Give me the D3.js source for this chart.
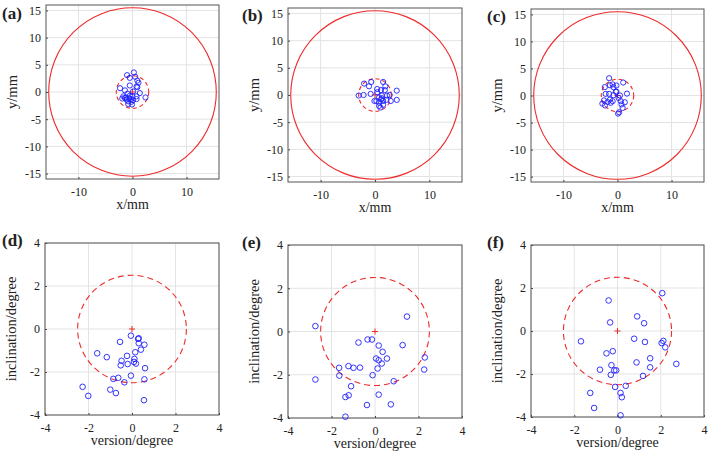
<!DOCTYPE html>
<html><head><meta charset="utf-8">
<script src="https://cdn.jsdelivr.net/npm/d3@7"></script>
<style>
body{margin:0;background:#fff;}
svg{display:block;}
text{font-family:"Liberation Serif","Times New Roman",serif;fill:#222;}
</style></head>
<body>
<svg id="chart" width="708" height="452"></svg>
<script>
// ---- data ----
const panelLabels = ["(a)","(b)","(c)","(d)","(e)","(f)"];
const topTicks = [-15,-10,-5,0,5,10,15];
const topXTicks = [-10,0,10];
const botTicks = [-4,-2,0,2,4];
const topXLabel = "x/mm", topYLabel = "y/mm";
const botXLabel = "version/degree", botYLabel = "inclination/degree";
const outerRadius = 15.5, innerRadiusTop = 3, innerRadiusBot = 2.5;

const aX = [0.25,-1.0,-0.5,0.5,0.9,1.1,-0.5,0.75,0.9,-2.3,-1.4,0.1,1.35,-0.9,-1.7,-1.2,-0.5,0,0.75,-1.9,-1.1,-0.3,0.1,0.75,-0.8,-0.2,2.4,-0.8,-0.1,-0.6,-1.4];
const aY = [3.6,3.1,2.6,2.8,2.1,1.7,1.2,1.0,0.9,0.7,0.3,0.1,-0.2,-0.3,-0.8,-1.0,-0.7,-0.8,-0.8,-1.2,-1.4,-1.3,-1.5,-1.3,-1.7,-1.8,-1.0,-2.2,-2.3,-1.2,-1.1];
const bX = [-2.0,-0.7,1.5,-1.1,0.4,1.1,1.8,1.9,-3.0,-2.1,-0.8,0.4,2.7,4.0,4.0,-0.1,0.75,1.1,1.3,0.75,1.5,2.1,2.9,0.75,1.5,1.0,0.25,1.25,2.2];
const bY = [2.1,2.4,2.4,1.6,1.1,0.9,0.9,1.6,-0.1,0,0.2,0.5,0,0.8,-0.9,-1.1,-0.45,-0.8,-0.6,-1.4,-1.1,-0.9,-1.1,-2.0,-1.8,-2.3,-1.1,-0.1,-0.1];
const cX = [-1.55,1.05,-2.35,-1.4,-0.9,-0.2,-0.75,-2.2,-1.55,-0.3,-0.2,0.45,1.75,-0.75,-2.8,-2.3,-1.85,-1.4,-0.9,0.2,0.6,1.35,0.95,0.3,0.1,0.75,-2.5,-1.25];
const cY = [3.2,2.4,1.55,1.9,2.05,1.85,1.55,0.3,0.3,0.7,0.7,0,0.35,0.05,-1.5,-1.85,-1.2,-0.75,-1.05,-0.45,-1.05,-1.25,-2.3,-3.1,-3.35,-1.65,-0.9,-1.35];
const dX = [-0.05,0.31,0.28,0.31,0.57,-0.55,-1.6,-1.16,-0.23,0.15,0.41,-0.48,-0.52,-0.2,0.11,0.09,0.18,0.6,-0.05,-0.63,-0.86,-0.35,0.57,-2.27,-1.0,-0.74,-2.01,0.55];
const dY = [-0.31,-0.43,-0.46,-0.66,-0.73,-0.6,-1.13,-1.31,-1.25,-1.08,-0.96,-1.48,-1.69,-1.63,-1.39,-1.53,-1.61,-1.82,-2.17,-2.27,-2.32,-2.48,-2.34,-2.69,-2.82,-2.98,-3.11,-3.31];
const eX = [-2.74,1.47,-2.74,-0.76,-0.34,-0.14,0.17,0.35,1.27,0.05,0.17,0.55,0.31,0.12,2.29,2.26,-1.65,-1.22,-0.99,-0.69,-1.64,-0.11,-1.1,0.86,-1.21,-1.36,0.17,-0.37,0.73,-1.36];
const eY = [0.25,0.69,-2.22,-0.51,-0.37,-0.37,-0.65,-0.94,-0.63,-1.25,-1.33,-1.25,-1.48,-1.71,-1.2,-1.76,-1.68,-1.6,-1.68,-1.67,-2.04,-2.02,-2.53,-2.3,-2.95,-3.03,-2.92,-3.4,-3.37,-3.94];
const fX = [2.07,-0.41,0.91,-0.34,1.23,-1.69,0.77,1.27,2.04,2.12,2.21,-0.51,-0.22,0.88,1.51,2.72,-0.81,-0.28,-0.15,-0.06,1.51,-0.31,1.18,-0.11,0.38,-1.26,0.14,0.2,-1.08,0.14];
const fY = [1.76,1.42,0.68,0.4,0.36,-0.48,-0.36,-0.51,-0.56,-0.46,-0.76,-1.04,-0.94,-1.46,-1.27,-1.53,-1.8,-1.59,-1.83,-1.83,-1.69,-2.04,-2.09,-2.6,-2.55,-2.88,-2.88,-3.08,-3.58,-3.92];

// ---- layout ----
const panels = [
  {lab:panelLabels[0], xs:aX, ys:aY, top:true,  box:[46,5,173,174],  labPos:[2,19]},
  {lab:panelLabels[1], xs:bX, ys:bY, top:true,  box:[288,8,174,174], labPos:[242,21]},
  {lab:panelLabels[2], xs:cX, ys:cY, top:true,  box:[531,9,173,173], labPos:[487,22]},
  {lab:panelLabels[3], xs:dX, ys:dY, top:false, box:[45,243,174,172],labPos:[2,246]},
  {lab:panelLabels[4], xs:eX, ys:eY, top:false, box:[288,245,174,173],labPos:[242,248]},
  {lab:panelLabels[5], xs:fX, ys:fY, top:false, box:[531,245,173,172],labPos:[487,248]}
];

const FONT = '"Liberation Serif", "Times New Roman", serif';
const svg = d3.select("#chart");
const red = "#ee2a2a", blue = "#1f1fff";

panels.forEach(p => {
  const [L,T,W,H] = p.box;
  const dom = p.top ? [-16,16] : [-4,4];
  const x = d3.scaleLinear().domain(dom).range([L, L+W]);
  const y = d3.scaleLinear().domain(dom).range([T+H, T]);
  const xt = p.top ? topXTicks : botTicks;
  const yt = p.top ? topTicks : botTicks;
  const g = svg.append("g");

  // grid
  g.append("g").selectAll("line").data(xt).join("line")
    .attr("x1", d=>x(d)).attr("x2", d=>x(d)).attr("y1", T).attr("y2", T+H)
    .attr("stroke", "#e3e3e3").attr("stroke-width", 1);
  g.append("g").selectAll("line").data(yt).join("line")
    .attr("y1", d=>y(d)).attr("y2", d=>y(d)).attr("x1", L).attr("x2", L+W)
    .attr("stroke", "#e3e3e3").attr("stroke-width", 1);

  // axes (inward ticks)
  const fmt = d => d < 0 ? "-" + Math.abs(d) : String(d);
  const ax = g.append("g").attr("transform", `translate(0,${T+H})`)
    .call(d3.axisBottom(x).tickValues(xt).tickSizeInner(-2).tickSizeOuter(0).tickPadding(8).tickFormat(fmt));
  const ay = g.append("g").attr("transform", `translate(${L},0)`)
    .call(d3.axisLeft(y).tickValues(yt).tickSizeInner(-2).tickSizeOuter(0).tickPadding(5).tickFormat(fmt));
  [ax, ay].forEach(a => {
    a.attr("font-family", FONT).attr("font-size", 12);
    a.select(".domain").remove();
    a.selectAll(".tick line").attr("stroke", "#444");
    a.selectAll("text").attr("font-family", FONT).attr("font-size", 12).attr("fill", "#222");
  });
  // box
  g.append("rect").attr("x", L).attr("y", T).attr("width", W).attr("height", H)
    .attr("fill", "none").attr("stroke", "#555").attr("stroke-width", 1);

  // circles
  if (p.top) {
    g.append("ellipse").attr("cx", x(0)).attr("cy", y(0))
      .attr("rx", x(outerRadius)-x(0)).attr("ry", y(0)-y(outerRadius))
      .attr("fill", "none").attr("stroke", red).attr("stroke-width", 1.1);
  }
  const ir = p.top ? innerRadiusTop : innerRadiusBot;
  g.append("ellipse").attr("cx", x(0)).attr("cy", y(0))
    .attr("rx", x(ir)-x(0)).attr("ry", y(0)-y(ir))
    .attr("fill", "none").attr("stroke", red).attr("stroke-width", 1.1)
    .attr("stroke-dasharray", p.top ? "4,3" : "6,4");
  // center plus
  const cs = 3;
  g.append("path").attr("d", `M${x(0)-cs},${y(0)}H${x(0)+cs}M${x(0)},${y(0)-cs}V${y(0)+cs}`)
    .attr("stroke", red).attr("stroke-width", 1);

  // points
  g.append("g").selectAll("circle").data(d3.zip(p.xs, p.ys)).join("circle")
    .attr("cx", d=>x(d[0])).attr("cy", d=>y(d[1])).attr("r", p.top ? 2.6 : 2.8)
    .attr("fill", "none").attr("stroke", blue).attr("stroke-width", 0.9);

  // axis labels
  g.append("text").attr("x", L+W/2).attr("y", T+H+30).attr("text-anchor", "middle")
    .attr("font-family", FONT).attr("font-size", 14).text(p.top ? topXLabel : botXLabel);
  g.append("text").attr("transform", `translate(${L-29},${T+H/2}) rotate(-90)`)
    .attr("text-anchor", "middle").attr("font-family", FONT).attr("font-size", 14.5)
    .text(p.top ? topYLabel : botYLabel);

  // panel label
  g.append("text").attr("x", p.labPos[0]).attr("y", p.labPos[1])
    .attr("font-family", FONT).attr("font-size", 17).attr("font-weight", "bold")
    .attr("fill", "#111").text(p.lab);
});
</script>
</body></html>
